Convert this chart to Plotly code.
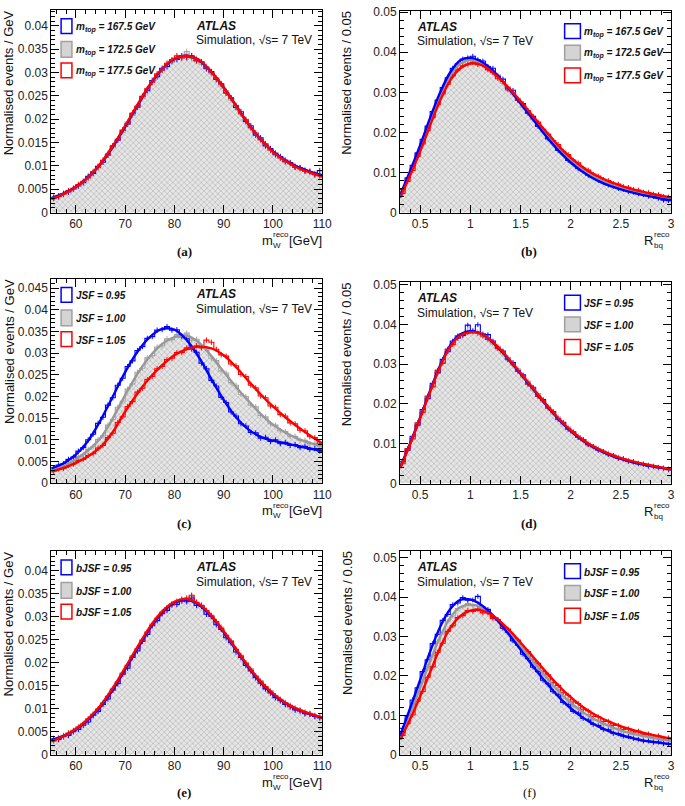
import plotly.graph_objects as go

W, H = 685, 806

# ---------------- binning / fit grids ----------------
MW_EDGES = list(range(55, 111))
MW_CENTERS = [e + 0.5 for e in MW_EDGES[:-1]]
R_EDGES = [round(0.3 + 0.05 * i, 3) for i in range(55)]
R_CENTERS = [round(e + 0.025, 4) for e in R_EDGES[:-1]]
MW_FIT_X = [55 + 2.5 * i for i in range(23)]
R_FIT_X = [round(0.3 + 0.1 * i, 2) for i in range(28)]

# tick labels
MW_TICKS = [60, 70, 80, 90, 100, 110]
MW_TICKTEXT = ["60", "70", "80", "90", "100", "110"]
R_TICKS = [0.5, 1.0, 1.5, 2.0, 2.5, 3.0]
R_TICKTEXT = ["0.5", "1", "1.5", "2", "2.5", "3"]

# ---------------- (a) m_W, m_top variations ----------------
a_gray = [0.0031,0.0036,0.0040,0.0046,0.0050,0.0059,0.0065,0.0076,0.0085,0.0098,
          0.0109,0.0127,0.0139,0.0158,0.0172,0.0194,0.0208,0.0230,0.0244,0.0266,
          0.0278,0.0296,0.0304,0.0318,0.0322,0.0333,0.0331,0.0345,0.0330,0.0330,
          0.0318,0.0313,0.0297,0.0289,0.0271,0.0261,0.0241,0.0230,0.0211,0.0200,
          0.0181,0.0171,0.0155,0.0148,0.0133,0.0128,0.0116,0.0113,0.0103,0.0101,
          0.0093,0.0092,0.0086,0.0084,0.0079]
a_blue = [0.0033,0.0034,0.0041,0.0044,0.0052,0.0057,0.0064,0.0078,0.0084,0.0099,
          0.0108,0.0124,0.0143,0.0155,0.0176,0.0190,0.0212,0.0226,0.0249,0.0261,
          0.0283,0.0291,0.0309,0.0313,0.0327,0.0328,0.0336,0.0332,0.0336,0.0325,
          0.0323,0.0308,0.0302,0.0285,0.0276,0.0256,0.0246,0.0225,0.0216,0.0195,
          0.0186,0.0166,0.0160,0.0143,0.0137,0.0124,0.0120,0.0109,0.0107,0.0097,
          0.0096,0.0089,0.0088,0.0081,0.0090]
a_red = [0.0030,0.0036,0.0039,0.0047,0.0050,0.0060,0.0067,0.0074,0.0088,0.0096,
         0.0112,0.0123,0.0142,0.0156,0.0177,0.0190,0.0213,0.0227,0.0248,0.0265,
         0.0279,0.0297,0.0305,0.0320,0.0324,0.0336,0.0331,0.0333,0.0334,0.0326,
         0.0322,0.0310,0.0300,0.0286,0.0275,0.0257,0.0245,0.0229,0.0212,0.0199,
         0.0182,0.0170,0.0156,0.0147,0.0134,0.0127,0.0117,0.0112,0.0106,0.0098,
         0.0096,0.0090,0.0088,0.0082,0.0079]
a_fit_gray = [0.0030,0.0040,0.0054,0.0075,0.0103,0.0140,0.0183,0.0228,0.0272,0.0306,
              0.0328,0.0335,0.0325,0.0300,0.0267,0.0228,0.0190,0.0157,0.0130,0.0111,
              0.0097,0.0087,0.0078]
a_fit_blue = [0.0031,0.0041,0.0055,0.0076,0.0104,0.0141,0.0184,0.0229,0.0273,0.0307,
              0.0329,0.0336,0.0326,0.0301,0.0268,0.0229,0.0190,0.0157,0.0131,0.0112,
              0.0098,0.0088,0.0080]
a_fit_red = [0.0029,0.0040,0.0055,0.0076,0.0105,0.0143,0.0186,0.0231,0.0274,0.0308,
             0.0330,0.0336,0.0327,0.0302,0.0268,0.0229,0.0190,0.0157,0.0130,0.0111,
             0.0096,0.0086,0.0077]

# ---------------- (b) R_bq, m_top variations ----------------
b_gray = [0.0052,0.0085,0.0110,0.0147,0.0175,0.0214,0.0242,0.0280,0.0302,0.0334,
          0.0349,0.0369,0.0374,0.0383,0.0377,0.0381,0.0368,0.0365,0.0349,0.0343,
          0.0323,0.0314,0.0294,0.0285,0.0263,0.0254,0.0232,0.0223,0.0201,0.0192,
          0.0172,0.0164,0.0145,0.0139,0.0122,0.0118,0.0103,0.0100,0.0088,0.0086,
          0.0076,0.0075,0.0066,0.0066,0.0058,0.0059,0.0051,0.0052,0.0046,0.0046,
          0.0041,0.0041,0.0037,0.0037]
b_blue = [0.0058,0.0087,0.0118,0.0149,0.0183,0.0216,0.0252,0.0281,0.0312,0.0336,
          0.0360,0.0371,0.0383,0.0386,0.0390,0.0381,0.0378,0.0364,0.0360,0.0340,
          0.0333,0.0310,0.0305,0.0280,0.0272,0.0248,0.0240,0.0215,0.0207,0.0184,
          0.0175,0.0155,0.0149,0.0130,0.0127,0.0110,0.0106,0.0093,0.0090,0.0080,
          0.0076,0.0069,0.0066,0.0060,0.0058,0.0053,0.0051,0.0047,0.0045,0.0041,
          0.0040,0.0036,0.0031,0.0030]
b_red = [0.0048,0.0078,0.0105,0.0140,0.0171,0.0204,0.0237,0.0269,0.0296,0.0320,
         0.0341,0.0356,0.0366,0.0370,0.0374,0.0369,0.0368,0.0356,0.0350,0.0334,
         0.0327,0.0306,0.0300,0.0280,0.0270,0.0254,0.0236,0.0226,0.0208,0.0196,
         0.0180,0.0170,0.0153,0.0145,0.0131,0.0124,0.0111,0.0106,0.0096,0.0091,
         0.0083,0.0080,0.0073,0.0071,0.0065,0.0063,0.0058,0.0056,0.0051,0.0050,
         0.0046,0.0045,0.0040,0.0039]
b_fit_gray = [0.0040,0.0098,0.0160,0.0228,0.0292,0.0342,0.0372,0.0381,0.0374,0.0357,
              0.0333,0.0304,0.0274,0.0243,0.0212,0.0182,0.0154,0.0130,0.0110,0.0094,
              0.0081,0.0070,0.0062,0.0055,0.0049,0.0044,0.0039,0.0035]
b_fit_blue = [0.0044,0.0104,0.0168,0.0237,0.0300,0.0350,0.0380,0.0386,0.0378,0.0360,
              0.0334,0.0304,0.0272,0.0240,0.0208,0.0177,0.0149,0.0125,0.0105,0.0089,
              0.0076,0.0066,0.0058,0.0051,0.0045,0.0040,0.0035,0.0031]
b_fit_red = [0.0037,0.0093,0.0152,0.0218,0.0280,0.0330,0.0360,0.0372,0.0369,0.0354,
             0.0332,0.0306,0.0278,0.0248,0.0218,0.0189,0.0161,0.0137,0.0117,0.0100,
             0.0087,0.0076,0.0067,0.0059,0.0053,0.0047,0.0042,0.0038]

# ---------------- (c) m_W, JSF variations ----------------
c_blue = [0.0035,0.0042,0.0045,0.0055,0.0060,0.0074,0.0082,0.0100,0.0113,0.0138,
          0.0152,0.0180,0.0197,0.0226,0.0242,0.0269,0.0282,0.0306,0.0315,0.0334,
          0.0338,0.0353,0.0354,0.0361,0.0353,0.0354,0.0339,0.0333,0.0312,0.0302,
          0.0277,0.0264,0.0237,0.0224,0.0198,0.0186,0.0164,0.0155,0.0137,0.0132,
          0.0117,0.0116,0.0104,0.0106,0.0096,0.0100,0.0091,0.0094,0.0087,0.0089,
          0.0082,0.0085,0.0078,0.0080,0.0074]
c_gray = [0.0031,0.0037,0.0039,0.0047,0.0051,0.0061,0.0066,0.0078,0.0084,0.0101,
          0.0109,0.0134,0.0147,0.0175,0.0189,0.0217,0.0229,0.0256,0.0265,0.0289,
          0.0294,0.0314,0.0317,0.0333,0.0331,0.0343,0.0336,0.0346,0.0330,0.0332,
          0.0314,0.0311,0.0288,0.0283,0.0259,0.0254,0.0232,0.0226,0.0205,0.0200,
          0.0180,0.0176,0.0156,0.0153,0.0137,0.0134,0.0121,0.0119,0.0108,0.0108,
          0.0099,0.0099,0.0091,0.0092,0.0084]
c_red = [0.0028,0.0033,0.0034,0.0041,0.0044,0.0052,0.0055,0.0064,0.0068,0.0081,
         0.0087,0.0105,0.0115,0.0140,0.0153,0.0177,0.0188,0.0210,0.0219,0.0239,
         0.0246,0.0264,0.0269,0.0285,0.0288,0.0301,0.0301,0.0312,0.0309,0.0317,
         0.0312,0.0330,0.0325,0.0309,0.0296,0.0293,0.0275,0.0271,0.0251,0.0246,
         0.0226,0.0220,0.0201,0.0197,0.0178,0.0175,0.0158,0.0155,0.0139,0.0137,
         0.0122,0.0121,0.0107,0.0105,0.0092]
c_fit_blue = [0.0034,0.0046,0.0066,0.0098,0.0145,0.0200,0.0256,0.0303,0.0337,0.0356,
              0.0354,0.0330,0.0290,0.0240,0.0192,0.0152,0.0124,0.0107,0.0098,0.0092,
              0.0086,0.0080,0.0075]
c_fit_gray = [0.0030,0.0040,0.0055,0.0076,0.0104,0.0150,0.0203,0.0252,0.0292,0.0321,
              0.0337,0.0340,0.0324,0.0293,0.0257,0.0222,0.0190,0.0160,0.0135,0.0117,
              0.0103,0.0093,0.0085]
c_fit_red = [0.0027,0.0035,0.0047,0.0062,0.0083,0.0118,0.0165,0.0207,0.0243,0.0272,
             0.0295,0.0309,0.0315,0.0311,0.0295,0.0268,0.0236,0.0205,0.0177,0.0152,
             0.0130,0.0110,0.0092]

# ---------------- (d) R_bq, JSF variations ----------------
d_gray = [0.0053,0.0087,0.0114,0.0151,0.0180,0.0218,0.0245,0.0283,0.0305,0.0336,
          0.0351,0.0370,0.0374,0.0385,0.0378,0.0381,0.0369,0.0367,0.0351,0.0345,
          0.0326,0.0317,0.0297,0.0288,0.0266,0.0257,0.0235,0.0226,0.0205,0.0195,
          0.0175,0.0167,0.0148,0.0142,0.0126,0.0120,0.0107,0.0102,0.0090,0.0088,
          0.0078,0.0077,0.0068,0.0067,0.0060,0.0059,0.0053,0.0052,0.0047,0.0047,
          0.0042,0.0042,0.0038,0.0038]
d_blue = [0.0056,0.0084,0.0119,0.0147,0.0186,0.0213,0.0252,0.0278,0.0312,0.0331,
          0.0358,0.0365,0.0372,0.0398,0.0384,0.0399,0.0376,0.0374,0.0358,0.0340,
          0.0333,0.0311,0.0304,0.0283,0.0273,0.0250,0.0242,0.0220,0.0211,0.0190,
          0.0181,0.0162,0.0154,0.0137,0.0130,0.0116,0.0111,0.0098,0.0094,0.0084,
          0.0081,0.0073,0.0071,0.0064,0.0063,0.0056,0.0055,0.0050,0.0049,0.0044,
          0.0044,0.0040,0.0039,0.0035]
d_red = [0.0050,0.0088,0.0112,0.0153,0.0178,0.0220,0.0243,0.0285,0.0302,0.0338,
         0.0349,0.0371,0.0375,0.0379,0.0382,0.0377,0.0371,0.0362,0.0356,0.0339,
         0.0331,0.0312,0.0301,0.0282,0.0271,0.0250,0.0241,0.0219,0.0209,0.0190,
         0.0180,0.0162,0.0153,0.0137,0.0129,0.0116,0.0110,0.0098,0.0093,0.0085,
         0.0080,0.0074,0.0071,0.0064,0.0062,0.0057,0.0055,0.0050,0.0049,0.0045,
         0.0043,0.0040,0.0039,0.0036]
d_fit_gray = [0.0040,0.0100,0.0165,0.0232,0.0295,0.0345,0.0373,0.0381,0.0376,0.0360,
              0.0336,0.0307,0.0277,0.0246,0.0215,0.0185,0.0157,0.0133,0.0113,0.0096,
              0.0083,0.0072,0.0063,0.0056,0.0050,0.0045,0.0040,0.0036]
d_fit_blue = [0.0041,0.0101,0.0166,0.0234,0.0297,0.0347,0.0375,0.0383,0.0377,0.0360,
              0.0335,0.0306,0.0276,0.0245,0.0214,0.0184,0.0156,0.0132,0.0112,0.0095,
              0.0082,0.0071,0.0062,0.0055,0.0049,0.0044,0.0040,0.0036]
d_fit_red = [0.0039,0.0099,0.0164,0.0231,0.0294,0.0344,0.0372,0.0380,0.0377,0.0361,
             0.0337,0.0308,0.0278,0.0247,0.0216,0.0186,0.0158,0.0134,0.0114,0.0097,
             0.0084,0.0073,0.0064,0.0057,0.0051,0.0046,0.0041,0.0037]

# ---------------- (e) m_W, bJSF variations ----------------
e_gray = [0.0033,0.0035,0.0042,0.0045,0.0053,0.0058,0.0068,0.0075,0.0089,0.0096,
          0.0113,0.0125,0.0144,0.0155,0.0178,0.0192,0.0215,0.0227,0.0250,0.0263,
          0.0284,0.0293,0.0310,0.0315,0.0328,0.0330,0.0338,0.0336,0.0344,0.0328,
          0.0325,0.0310,0.0303,0.0286,0.0277,0.0257,0.0248,0.0227,0.0216,0.0197,
          0.0187,0.0169,0.0161,0.0145,0.0139,0.0125,0.0121,0.0110,0.0108,0.0098,
          0.0098,0.0090,0.0090,0.0083,0.0082]
e_blue = [0.0035,0.0033,0.0040,0.0042,0.0050,0.0055,0.0064,0.0071,0.0085,0.0094,
          0.0109,0.0121,0.0141,0.0154,0.0175,0.0188,0.0211,0.0225,0.0246,0.0261,
          0.0280,0.0291,0.0306,0.0313,0.0325,0.0326,0.0336,0.0332,0.0340,0.0324,
          0.0322,0.0305,0.0300,0.0282,0.0272,0.0254,0.0243,0.0223,0.0211,0.0194,
          0.0182,0.0167,0.0155,0.0143,0.0134,0.0124,0.0117,0.0109,0.0104,0.0097,
          0.0095,0.0089,0.0088,0.0083,0.0080]
e_red = [0.0030,0.0036,0.0039,0.0047,0.0052,0.0060,0.0066,0.0078,0.0086,0.0099,
         0.0111,0.0127,0.0140,0.0158,0.0175,0.0194,0.0212,0.0230,0.0247,0.0266,
         0.0281,0.0296,0.0307,0.0319,0.0326,0.0333,0.0333,0.0340,0.0346,0.0331,
         0.0324,0.0313,0.0301,0.0289,0.0274,0.0259,0.0246,0.0229,0.0214,0.0199,
         0.0184,0.0171,0.0158,0.0148,0.0136,0.0128,0.0119,0.0113,0.0105,0.0101,
         0.0096,0.0092,0.0088,0.0085,0.0081]
e_fit_gray = [0.0031,0.0041,0.0056,0.0077,0.0105,0.0142,0.0186,0.0231,0.0275,0.0309,
              0.0331,0.0337,0.0326,0.0301,0.0267,0.0229,0.0191,0.0158,0.0132,0.0113,
              0.0099,0.0089,0.0080]
e_fit_blue = [0.0032,0.0041,0.0055,0.0076,0.0104,0.0141,0.0185,0.0230,0.0274,0.0308,
              0.0330,0.0336,0.0325,0.0300,0.0266,0.0228,0.0190,0.0157,0.0131,0.0112,
              0.0098,0.0088,0.0080]
e_fit_red = [0.0029,0.0040,0.0056,0.0078,0.0107,0.0145,0.0189,0.0234,0.0277,0.0311,
             0.0332,0.0338,0.0327,0.0302,0.0268,0.0230,0.0192,0.0159,0.0133,0.0113,
             0.0099,0.0089,0.0080]

# ---------------- (f) R_bq, bJSF variations ----------------
f_blue = [0.0067,0.0098,0.0139,0.0170,0.0211,0.0241,0.0282,0.0306,0.0341,0.0356,
          0.0381,0.0385,0.0399,0.0392,0.0393,0.0402,0.0374,0.0369,0.0350,0.0342,
          0.0321,0.0311,0.0289,0.0278,0.0255,0.0244,0.0222,0.0211,0.0189,0.0180,
          0.0160,0.0152,0.0133,0.0127,0.0110,0.0106,0.0092,0.0088,0.0077,0.0074,
          0.0064,0.0063,0.0054,0.0053,0.0047,0.0046,0.0041,0.0039,0.0035,0.0035,
          0.0031,0.0032,0.0028,0.0026]
f_gray = [0.0056,0.0092,0.0119,0.0157,0.0184,0.0224,0.0251,0.0288,0.0309,0.0339,
          0.0352,0.0371,0.0375,0.0384,0.0378,0.0380,0.0368,0.0366,0.0350,0.0344,
          0.0325,0.0316,0.0296,0.0287,0.0265,0.0256,0.0234,0.0225,0.0203,0.0194,
          0.0174,0.0166,0.0147,0.0141,0.0124,0.0120,0.0105,0.0102,0.0089,0.0088,
          0.0076,0.0077,0.0066,0.0067,0.0058,0.0059,0.0051,0.0053,0.0046,0.0048,
          0.0041,0.0043,0.0036,0.0037]
f_red = [0.0049,0.0079,0.0101,0.0136,0.0160,0.0197,0.0223,0.0260,0.0283,0.0313,
         0.0327,0.0348,0.0353,0.0366,0.0364,0.0370,0.0360,0.0360,0.0346,0.0342,
         0.0325,0.0319,0.0299,0.0291,0.0271,0.0262,0.0241,0.0232,0.0211,0.0203,
         0.0183,0.0176,0.0157,0.0151,0.0134,0.0130,0.0114,0.0111,0.0097,0.0096,
         0.0084,0.0085,0.0074,0.0075,0.0064,0.0066,0.0057,0.0060,0.0051,0.0053,
         0.0045,0.0048,0.0042,0.0043]
f_fit_blue = [0.0048,0.0118,0.0190,0.0262,0.0325,0.0370,0.0393,0.0394,0.0382,0.0360,
              0.0332,0.0300,0.0267,0.0233,0.0200,0.0170,0.0142,0.0118,0.0098,0.0082,
              0.0069,0.0058,0.0050,0.0043,0.0037,0.0033,0.0030,0.0027]
f_fit_gray = [0.0043,0.0105,0.0170,0.0238,0.0300,0.0348,0.0375,0.0381,0.0375,0.0359,
              0.0335,0.0306,0.0276,0.0245,0.0214,0.0184,0.0156,0.0132,0.0112,0.0095,
              0.0082,0.0071,0.0062,0.0055,0.0049,0.0044,0.0039,0.0035]
f_fit_red = [0.0038,0.0090,0.0148,0.0210,0.0272,0.0322,0.0352,0.0366,0.0367,0.0357,
             0.0338,0.0313,0.0285,0.0256,0.0226,0.0197,0.0170,0.0146,0.0125,0.0108,
             0.0094,0.0082,0.0072,0.0064,0.0057,0.0051,0.0046,0.0041]

# ---------------- text ----------------
MTOP_LABELS = ["m<sub>top</sub> = 167.5 GeV", "m<sub>top</sub> = 172.5 GeV", "m<sub>top</sub> = 177.5 GeV"]
JSF_LABELS = ["JSF = 0.95", "JSF = 1.00", "JSF = 1.05"]
BJSF_LABELS = ["bJSF = 0.95", "bJSF = 1.00", "bJSF = 1.05"]

BLUE, RED = "#0000ff", "#ff0000"
GRAY_LINE, GRAY_FIT = "#a2a2a2", "#989898"
SANS = "Liberation Sans, Arial, sans-serif"
SERIF = "Liberation Serif, Times New Roman, serif"


def px(x):
    return x / W


def py(y):
    return 1 - y / H


# panel definitions (pixel boxes of the plotting frames)
panels = [
    dict(kind="mw", box=(52, 327, 4, 210), yr=0.0434, hist=(a_blue, a_gray, a_red),
         fit=(a_fit_blue, a_fit_gray, a_fit_red), labels=MTOP_LABELS, cap="<b>(a)</b>", capy=250),
    dict(kind="r", box=(406, 681, 5, 210), yr=0.0503, hist=(b_blue, b_gray, b_red),
         fit=(b_fit_blue, b_fit_gray, b_fit_red), labels=MTOP_LABELS, cap="<b>(b)</b>", capy=250),
    dict(kind="mw", box=(52, 327, 277, 485), yr=0.0472, hist=(c_blue, c_gray, c_red),
         fit=(c_fit_blue, c_fit_gray, c_fit_red), labels=JSF_LABELS, cap="<b>(c)</b>", capy=526),
    dict(kind="r", box=(406, 681, 281, 485.5), yr=0.0505, hist=(d_blue, d_gray, d_red),
         fit=(d_fit_blue, d_fit_gray, d_fit_red), labels=JSF_LABELS, cap="<b>(d)</b>", capy=526),
    dict(kind="mw", box=(52, 327, 554, 761), yr=0.0442, hist=(e_blue, e_gray, e_red),
         fit=(e_fit_blue, e_fit_gray, e_fit_red), labels=BJSF_LABELS, cap="<b>(e)</b>", capy=799),
    dict(kind="r", box=(406, 681, 554, 761), yr=0.0517, hist=(f_blue, f_gray, f_red),
         fit=(f_fit_blue, f_fit_gray, f_fit_red), labels=BJSF_LABELS, cap="(f)", capy=799),
]

fig = go.Figure()
annotations = []
shapes = []


def ann(text, x, y, size, xanchor="left", yanchor="middle", family=SANS, color="#111", angle=0):
    annotations.append(dict(text=text, x=px(x), y=py(y), xref="paper", yref="paper",
                            xanchor=xanchor, yanchor=yanchor, showarrow=False,
                            textangle=angle, borderpad=0, borderwidth=0,
                            font=dict(family=family, size=size, color=color)))


axis_font = dict(family=SANS, size=12, color="#222")

for i, p in enumerate(panels, start=1):
    xa = "x" if i == 1 else f"x{i}"
    ya = "y" if i == 1 else f"y{i}"
    if p["kind"] == "mw":
        edges, centers, fx, bw = MW_EDGES, MW_CENTERS, MW_FIT_X, 1.0
        xrange = [55, 110.001]
        xtv, xtt, xminor = MW_TICKS, MW_TICKTEXT, 2
        ydt, yminor = 0.005, 0.001
    else:
        edges, centers, fx, bw = R_EDGES, R_CENTERS, R_FIT_X, 0.05
        xrange = [0.3, 3.0001]
        xtv, xtt, xminor = R_TICKS, R_TICKTEXT, 0.1
        ydt, yminor = 0.01, 0.002
    hb, hg, hr = p["hist"]
    fb, fg, fr = p["fit"]
    assert len(hb) == len(hg) == len(hr) == len(centers)
    assert len(fb) == len(fg) == len(fr) == len(fx)

    # gray filled histogram
    fig.add_trace(go.Bar(x=centers, y=hg, width=bw, xaxis=xa, yaxis=ya,
                         marker=dict(color="#e0e0e0", line=dict(width=0),
                                     pattern=dict(shape="x", size=4, solidity=0.4,
                                                  fgcolor="#a0a0a0", bgcolor="#e6e6e6")),
                         showlegend=False, hoverinfo="skip"))
    # histogram outlines and error crosses
    for vals, col in ((hg, GRAY_LINE), (hb, BLUE), (hr, RED)):
        fig.add_trace(go.Scatter(x=edges, y=vals + [vals[-1]], mode="lines", xaxis=xa, yaxis=ya,
                                 line=dict(shape="hv", width=1.1, color=col),
                                 showlegend=False, hoverinfo="skip"))
        fig.add_trace(go.Scatter(x=centers, y=vals, mode="markers", xaxis=xa, yaxis=ya,
                                 marker=dict(size=2, color=col, opacity=0),
                                 error_y=dict(type="constant", value=0.0006, width=0,
                                              thickness=1.0, color=col),
                                 showlegend=False, hoverinfo="skip"))
    # fitted curves
    for vals, col in ((fg, GRAY_FIT), (fb, BLUE), (fr, RED)):
        fig.add_trace(go.Scatter(x=fx, y=vals, mode="lines", xaxis=xa, yaxis=ya,
                                 line=dict(shape="spline", smoothing=1.0, width=2.4, color=col),
                                 showlegend=False, hoverinfo="skip"))

    x0p, x1p, y0p, y1p = p["box"]
    common = dict(showline=True, linecolor="black", linewidth=1, mirror="allticks",
                  ticks="inside", ticklen=8, tickcolor="black", tickwidth=1,
                  showgrid=False, zeroline=False, tickfont=axis_font,
                  ticklabeloverflow="allow")
    fig.update_layout(**{
        f"xaxis{'' if i == 1 else i}": dict(
            domain=[px(x0p), px(x1p)], range=xrange, anchor=ya,
            tickmode="array", tickvals=xtv, ticktext=xtt,
            minor=dict(ticks="inside", ticklen=4, tickcolor="black", dtick=xminor, tick0=0, showgrid=False),
            **common),
        f"yaxis{'' if i == 1 else i}": dict(
            domain=[py(y1p), py(y0p)], range=[0, p["yr"]], anchor=xa,
            tick0=0, dtick=ydt,
            minor=dict(ticks="inside", ticklen=4, tickcolor="black", dtick=yminor, tick0=0, showgrid=False),
            **common),
    })

    left = p["kind"] == "mw"
    # ATLAS label
    ax = 199 if left else 423
    ann("<b><i>ATLAS</i></b>", ax, y0p + 16, 12)
    ann("Simulation, √s= 7 TeV", ax, y0p + 31, 12)

    # legend
    if left:
        bx0, bx1, tx = 62, 73, 77
        rows = [(y0p + 9, y0p + 24), (y0p + 32, y0p + 48), (y0p + 54, y0p + 69)]
    else:
        bx0, bx1, tx = 573, 589, 593
        rows = [(y0p + 13, y0p + 28), (y0p + 35, y0p + 50), (y0p + 58, y0p + 73)]
    for (ry0, ry1), lab, col, fill in zip(rows, p["labels"], (BLUE, "#a0a0a0", RED),
                                          ("rgba(0,0,0,0)", "#d4d4d4", "rgba(0,0,0,0)")):
        shapes.append(dict(type="rect", xref="paper", yref="paper",
                           x0=px(bx0), x1=px(bx1), y0=py(ry1), y1=py(ry0),
                           line=dict(color=col, width=1.5), fillcolor=fill))
        ann(f"<b><i>{lab}</i></b>", tx, (ry0 + ry1) / 2 + 1, 10)

    # y-axis title
    ann("Normalised events / " + ("GeV" if left else "0.05"),
        9 if left else 352, y0p, 13, xanchor="center", yanchor="top", angle=-90)

    # x-axis title
    yc = y1p + 28
    if left:
        ann("m", 277, yc, 13, xanchor="right")
        ann("reco", 277.5, yc - 5.5, 8)
        ann("W", 277.5, yc + 5, 8)
        ann("[GeV]", 327, yc, 13, xanchor="right")
    else:
        ann("R", 663, yc, 13, xanchor="right")
        ann("reco", 663.5, yc - 6, 8)
        ann("bq", 663.5, yc + 5, 8)

    # caption
    ann(p["cap"], 187 if left else 537, p["capy"], 13, xanchor="center", family=SERIF)

fig.update_layout(width=W, height=H, margin=dict(l=0, r=0, t=0, b=0),
                  paper_bgcolor="white", plot_bgcolor="white",
                  barmode="overlay", bargap=0, showlegend=False,
                  annotations=annotations, shapes=shapes)

# remove the default page margin so the figure sits at the window origin; hide the mode bar
fig.write_html("out.html", config={"displayModeBar": False},
               post_script="document.body.style.margin='0';document.body.style.overflow='hidden';")
